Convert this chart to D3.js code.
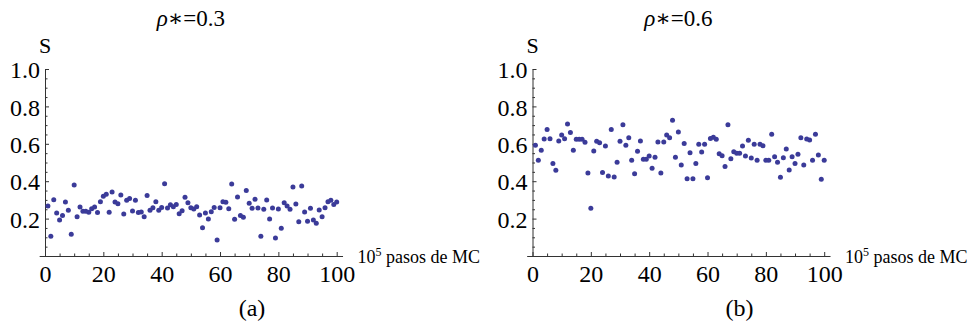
<!DOCTYPE html>
<html>
<head>
<meta charset="utf-8">
<script src="https://cdn.jsdelivr.net/npm/d3@7"></script>
<style>
  body { margin: 0; background: #fff; }
  svg text { font-family: "Liberation Serif", "Times New Roman", Times, "DejaVu Serif", "Noto Serif", serif !important; fill: #000; }
</style>
</head>
<body>
<svg id="chart" width="977" height="328"></svg>
<script>
// MC steps (in units of 10^5)
const pasos = d3.range(1, 101);

// S for rho* = 0.3
const sRho03 = [
  0.267, 0.105, 0.301, 0.23, 0.193, 0.216, 0.289, 0.244, 0.116, 0.38,
  0.21, 0.262, 0.239, 0.239, 0.234, 0.253, 0.262, 0.232, 0.29, 0.319,
  0.33, 0.234, 0.342, 0.289, 0.28, 0.326, 0.225, 0.298, 0.307, 0.24,
  0.298, 0.232, 0.235, 0.21, 0.324, 0.244, 0.258, 0.29, 0.244, 0.26,
  0.387, 0.257, 0.274, 0.264, 0.276, 0.226, 0.242, 0.314, 0.285, 0.258,
  0.251, 0.264, 0.219, 0.151, 0.23, 0.198, 0.237, 0.26, 0.086, 0.258,
  0.29, 0.287, 0.253, 0.385, 0.196, 0.316, 0.216, 0.207, 0.35, 0.282,
  0.255, 0.303, 0.257, 0.105, 0.25, 0.3, 0.198, 0.257, 0.096, 0.251,
  0.148, 0.285, 0.267, 0.25, 0.369, 0.278, 0.183, 0.374, 0.235, 0.186,
  0.255, 0.193, 0.175, 0.246, 0.21, 0.258, 0.29, 0.298, 0.276, 0.289
];

// S for rho* = 0.6
const sRho06 = [
  0.592, 0.512, 0.565, 0.626, 0.676, 0.627, 0.494, 0.458, 0.615, 0.647,
  0.627, 0.706, 0.661, 0.565, 0.624, 0.624, 0.624, 0.608, 0.444, 0.255,
  0.561, 0.613, 0.606, 0.446, 0.588, 0.428, 0.677, 0.422, 0.501, 0.613,
  0.702, 0.592, 0.633, 0.512, 0.44, 0.56, 0.615, 0.517, 0.517, 0.535,
  0.469, 0.528, 0.61, 0.444, 0.61, 0.647, 0.633, 0.726, 0.528, 0.663,
  0.487, 0.601, 0.413, 0.552, 0.413, 0.494, 0.597, 0.556, 0.597, 0.419,
  0.629, 0.635, 0.624, 0.547, 0.536, 0.478, 0.702, 0.52, 0.558, 0.549,
  0.549, 0.588, 0.535, 0.619, 0.524, 0.597, 0.512, 0.597, 0.59, 0.512,
  0.512, 0.651, 0.531, 0.501, 0.421, 0.526, 0.572, 0.46, 0.531, 0.494,
  0.544, 0.633, 0.487, 0.626, 0.62, 0.512, 0.651, 0.54, 0.41, 0.512
];

const xTicks = [0, 20, 40, 60, 80, 100];
const xMinor = [5, 10, 15, 25, 30, 35, 45, 50, 55, 65, 70, 75, 85, 90, 95];
const yTicks = [0.2, 0.4, 0.6, 0.8, 1.0];
const yMinor = [0.05, 0.1, 0.15, 0.25, 0.3, 0.35, 0.45, 0.5, 0.55, 0.65, 0.7, 0.75, 0.85, 0.9, 0.95];

const titles = ["0.3", "0.6"];
const tags = ["(a)", "(b)"];
const series = [sRho03, sRho06];

const svg = d3.select("#chart");
const unit = 2.917;           // px per step
const origins = [45, 532.5];  // x pixel of step 0 in each panel
const dotColor = "#3b3b99";
const axisColor = "#333";

series.forEach((vals, k) => {
  const x0 = origins[k];
  const x = d3.scaleLinear().domain([-2, 102]).range([x0 - 2 * unit, x0 + 102 * unit]);
  const y = d3.scaleLinear().domain([0, 1]).range([256, 69]);
  const g = svg.append("g");

  // x axis (ticks point inward)
  const xa = g.append("g")
    .attr("transform", `translate(0,${y(0)})`)
    .call(d3.axisBottom(x).tickValues(xTicks).tickSizeInner(-4).tickSizeOuter(0).tickPadding(9)
      .tickFormat(d3.format("d")));
  xa.attr("font-family", null);
  xa.selectAll("text").attr("font-size", 24);
  xa.select(".domain").attr("stroke", axisColor);
  xa.selectAll(".tick line").attr("stroke", axisColor);

  g.append("g")
    .attr("transform", `translate(0,${y(0)})`)
    .call(d3.axisBottom(x).tickValues(xMinor).tickSize(-2.5).tickFormat(""))
    .call(s => s.select(".domain").remove())
    .selectAll(".tick line").attr("stroke", axisColor);

  // y axis
  const ya = g.append("g")
    .attr("transform", `translate(${x(0)},0)`)
    .call(d3.axisLeft(y).tickValues(yTicks).tickSizeInner(-4).tickSizeOuter(0).tickPadding(5)
      .tickFormat(d3.format(".1f")));
  ya.attr("font-family", null);
  ya.selectAll("text").attr("font-size", 24).attr("dy", "0.36em");
  ya.select(".domain").attr("stroke", axisColor);
  ya.selectAll(".tick line").attr("stroke", axisColor);

  g.append("g")
    .attr("transform", `translate(${x(0)},0)`)
    .call(d3.axisLeft(y).tickValues(yMinor).tickSize(-2.5).tickFormat(""))
    .call(s => s.select(".domain").remove())
    .selectAll(".tick line").attr("stroke", axisColor);

  // points
  g.append("g").selectAll("circle")
    .data(vals)
    .enter().append("circle")
    .attr("cx", (d, i) => x(pasos[i]))
    .attr("cy", d => y(d))
    .attr("r", 2.5)
    .attr("fill", dotColor);

  // title
  const t = g.append("text")
    .attr("x", x(50))
    .attr("y", 26)
    .attr("text-anchor", "middle")
    .attr("font-size", 23);
  t.append("tspan").attr("font-style", "italic").text("ρ");
  t.append("tspan").text("∗=" + titles[k]);

  // y label
  g.append("text")
    .attr("x", x(0))
    .attr("y", 53)
    .attr("text-anchor", "middle")
    .attr("font-size", 22)
    .text("S");

  // x label
  const xl = g.append("text")
    .attr("x", x(102) + 15)
    .attr("y", 263)
    .attr("font-size", 18);
  xl.append("tspan").text("10");
  xl.append("tspan").attr("dy", -7).attr("font-size", 12).text("5");
  xl.append("tspan").attr("dy", 7).text(" pasos de MC");

  // panel tag
  g.append("text")
    .attr("x", x0 + 207)
    .attr("y", 316)
    .attr("text-anchor", "middle")
    .attr("font-size", 24)
    .text(tags[k]);
});
</script>
</body>
</html>
